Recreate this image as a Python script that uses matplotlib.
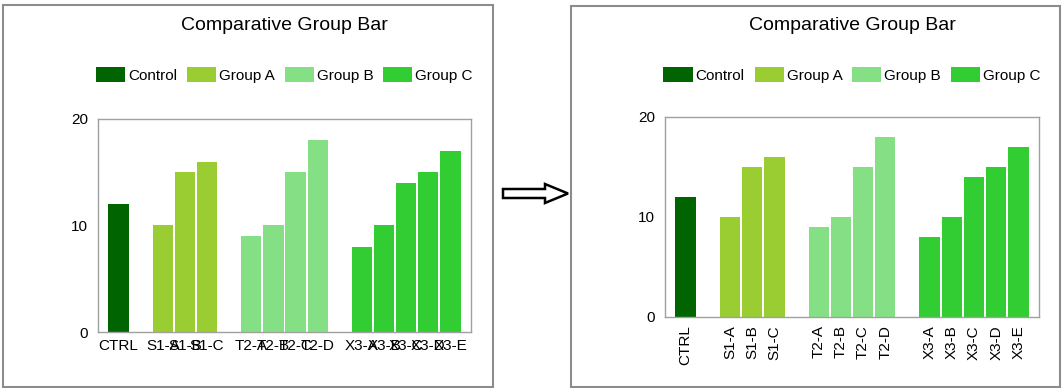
import matplotlib
matplotlib.use("Agg")
import matplotlib.pyplot as plt
from matplotlib.patches import Rectangle, FancyArrow

plt.rcParams['font.family'] = ['Liberation Sans', 'DejaVu Sans']

# data
group_names = ["Control", "Group A", "Group B", "Group C"]
group_labels = [["CTRL"],
                ["S1-A", "S1-B", "S1-C"],
                ["T2-A", "T2-B", "T2-C", "T2-D"],
                ["X3-A", "X3-B", "X3-C", "X3-D", "X3-E"]]
group_values = [[12],
                [10, 15, 16],
                [9, 10, 15, 18],
                [8, 10, 14, 15, 17]]
group_colors = ["#006400", "#9ACD32", "#85E085", "#32CD32"]
title = "Comparative Group Bar"

W, H = 1062, 388
fig = plt.figure(figsize=(W / 100, H / 100), dpi=100)


def fx(px):
    return px / W


def fy(py):
    return 1 - py / H


def draw_chart(ax, rotate):
    pos = 0
    ticks, labels = [], []
    for name, labs, vals, col in zip(group_names, group_labels, group_values, group_colors):
        xs = list(range(pos, pos + len(vals)))
        ax.bar(xs, vals, width=0.92, color=col, label=name)
        ticks += xs
        labels += labs
        pos += len(vals) + 1
    ax.set_xlim(-0.93, pos - 1 - 0.07)
    ax.set_ylim(0, 20)
    ax.set_yticks([0, 10, 20])
    ax.set_xticks(ticks)
    if rotate:
        ax.set_xticklabels(labels, rotation=90, fontsize=11)
        ax.tick_params(axis='x', length=0, pad=6)
    else:
        # labels overlap here on purpose, as in the reference
        ax.set_xticklabels(labels, fontsize=11)
        ax.tick_params(axis='x', length=0, pad=5)
    ax.tick_params(axis='y', length=0, pad=7, labelsize=11)
    for sp in ax.spines.values():
        sp.set_color("#a0a0a0")
        sp.set_linewidth(1.0)
    bb = ax.get_position()
    ax.text((bb.x0 + bb.x1) / 2, fy(25), title, transform=fig.transFigure,
            ha='center', va='center', fontsize=14)
    ax.legend(loc='center', bbox_to_anchor=((bb.x0 + bb.x1) / 2, fy(75)),
              bbox_transform=fig.transFigure, ncol=4, frameon=False,
              fontsize=11, handlelength=1.9, handleheight=1.05,
              handletextpad=0.2, columnspacing=0.65)


ax1 = fig.add_axes([fx(98), fy(332), fx(471 - 98), (332 - 119) / H])
draw_chart(ax1, rotate=False)

ax2 = fig.add_axes([fx(665), fy(317), fx(1039 - 665), (317 - 117) / H])
draw_chart(ax2, rotate=True)

# frames around the two panels and the arrow between them
over = fig.add_axes([0, 0, 1, 1], zorder=-1)
over.set_xlim(0, W)
over.set_ylim(H, 0)
over.axis('off')
over.add_patch(Rectangle((3, 5), 490, 382, fill=False, ec="#8c8c8c", lw=1.5))
over.add_patch(Rectangle((571, 6), 489, 381, fill=False, ec="#8c8c8c", lw=1.5))
over.add_patch(FancyArrow(503, 193.5, 65, 0, width=9, head_width=19, head_length=23,
                          length_includes_head=True, fc="white", ec="black", lw=1.8))

fig.savefig("out.png", dpi=100)
